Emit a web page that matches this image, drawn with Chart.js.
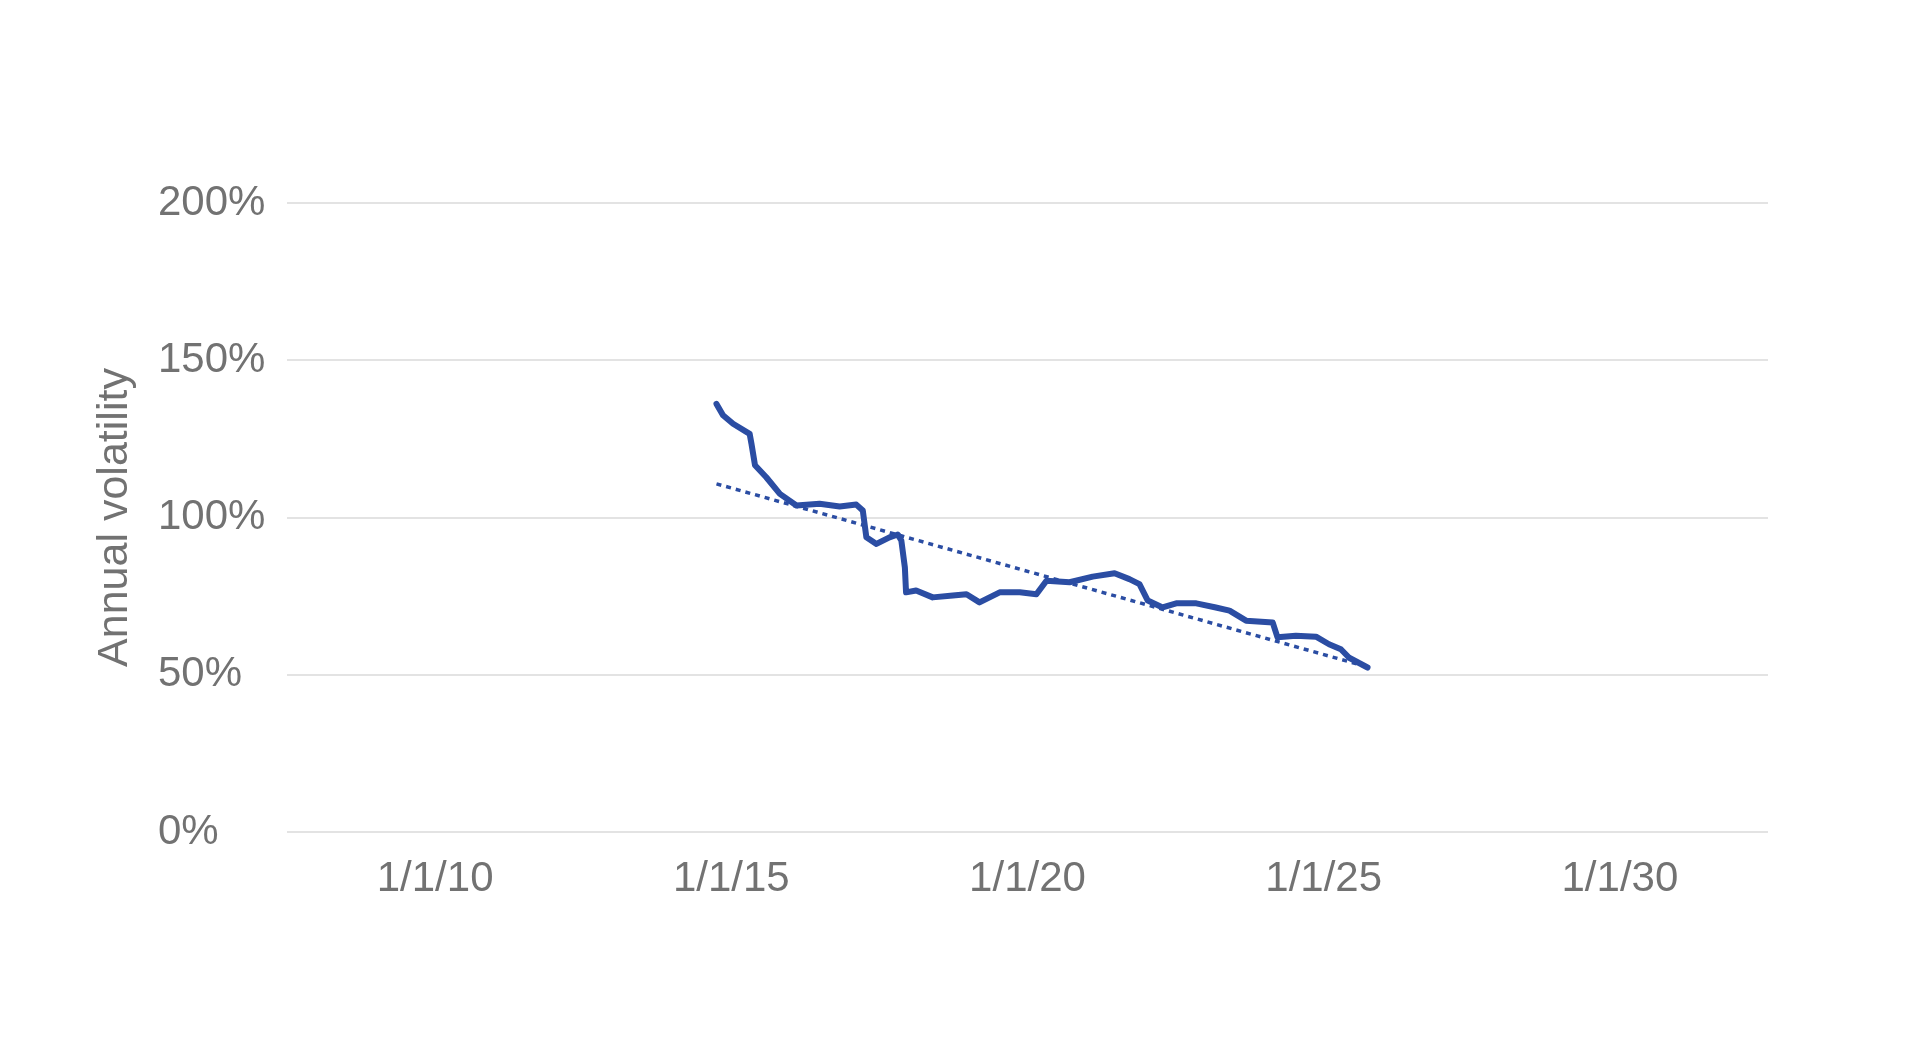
<!DOCTYPE html>
<html>
<head>
<meta charset="utf-8">
<style>
  html, body { margin: 0; padding: 0; background: #ffffff; }
  #wrap { width: 1932px; height: 1060px; }
</style>
<script src="https://cdn.jsdelivr.net/npm/chart.js@4.4.1/dist/chart.umd.min.js"></script>
</head>
<body>
<div id="wrap"><canvas id="volChart" width="1932" height="1060"></canvas></div>
<script>
// dates as decimal years, volatility in percent
const volYears = [
  2014.75, 2014.86, 2015.03, 2015.31, 2015.34, 2015.40, 2015.59, 2015.82, 2016.10, 2016.49,
  2016.83, 2017.11, 2017.22, 2017.28, 2017.45, 2017.67, 2017.81, 2017.87, 2017.93, 2017.95,
  2018.12, 2018.40, 2018.74, 2018.97, 2019.19, 2019.53, 2019.87, 2020.15, 2020.32, 2020.71,
  2021.10, 2021.47, 2021.72, 2021.89, 2022.03, 2022.28, 2022.51, 2022.85, 2023.18, 2023.41,
  2023.69, 2024.14, 2024.22, 2024.53, 2024.87, 2025.09, 2025.29, 2025.43, 2025.74
];
const volValues = [
  136.1, 132.5, 129.8, 126.6, 123.5, 116.6, 112.8, 107.5, 103.8, 104.4,
  103.5, 104.1, 102.2, 93.7, 91.6, 93.7, 94.6, 92.7, 84.1, 76.2,
  76.8, 74.6, 75.2, 75.6, 73.0, 76.2, 76.2, 75.6, 79.9, 79.4,
  81.2, 82.3, 80.4, 78.8, 73.6, 71.4, 72.7, 72.7, 71.4, 70.4,
  67.2, 66.6, 61.9, 62.4, 62.1, 59.7, 58.1, 55.4, 52.3
];

// linear trend line end points
const trendYears = [2014.75, 2025.74];
const trendValues = [110.7, 52.5];

const xTickYears = [2010, 2015, 2020, 2025, 2030];
const yTickValues = [0, 50, 100, 150, 200];

const toPoints = (xs, ys) => xs.map((x, i) => ({ x: x, y: ys[i] }));

const lineBlue = '#2b4da3';
const textGray = '#727272';
const fontFamily = 'Liberation Sans, Arial, sans-serif';

new Chart(document.getElementById('volChart'), {
  type: 'line',
  data: {
    datasets: [
      {
        label: 'Annual volatility',
        data: toPoints(volYears, volValues),
        borderColor: lineBlue,
        borderWidth: 6,
        pointRadius: 0,
        tension: 0,
        borderJoinStyle: 'round',
        borderCapStyle: 'round'
      },
      {
        label: 'Trend',
        data: toPoints(trendYears, trendValues),
        borderColor: lineBlue,
        borderWidth: 3.5,
        borderDash: [5, 5],
        pointRadius: 0,
        tension: 0
      }
    ]
  },
  options: {
    responsive: false,
    devicePixelRatio: 1,
    animation: false,
    layout: { padding: { top: 203, right: 164, bottom: 0, left: 0 } },
    plugins: {
      legend: { display: false },
      tooltip: { enabled: false }
    },
    scales: {
      x: {
        type: 'linear',
        min: 2007.5,
        max: 2032.5,
        afterBuildTicks: (axis) => { axis.ticks = xTickYears.map(v => ({ value: v })); },
        afterFit: (axis) => { axis.height = 228; },
        grid: { display: false },
        border: { display: false },
        ticks: {
          color: textGray,
          font: { family: fontFamily, size: 42 },
          padding: 14,
          maxRotation: 0,
          autoSkip: false,
          callback: (v) => '1/1/' + String(v % 100).padStart(2, '0')
        }
      },
      y: {
        min: 0,
        max: 200,
        weight: 0,
        afterBuildTicks: (axis) => { axis.ticks = yTickValues.map(v => ({ value: v })); },
        afterFit: (axis) => { axis.width = 129; },
        grid: { color: '#e3e3e3', lineWidth: 2, drawTicks: false },
        border: { display: false },
        ticks: {
          color: textGray,
          font: { family: fontFamily, size: 42 },
          padding: 22,
          crossAlign: 'far',
          callback: (v) => v + '%'
        }
      },
      // outer left axis only carries the axis title
      yTitle: {
        position: 'left',
        min: 0,
        max: 200,
        weight: 1,
        afterFit: (axis) => { axis.width = 158; },
        grid: { display: false },
        border: { display: false },
        ticks: { display: false },
        title: {
          display: true,
          text: 'Annual volatility',
          color: textGray,
          font: { family: fontFamily, size: 43 },
          padding: { top: 89, bottom: 0 }
        }
      }
    }
  }
});
</script>
</body>
</html>
